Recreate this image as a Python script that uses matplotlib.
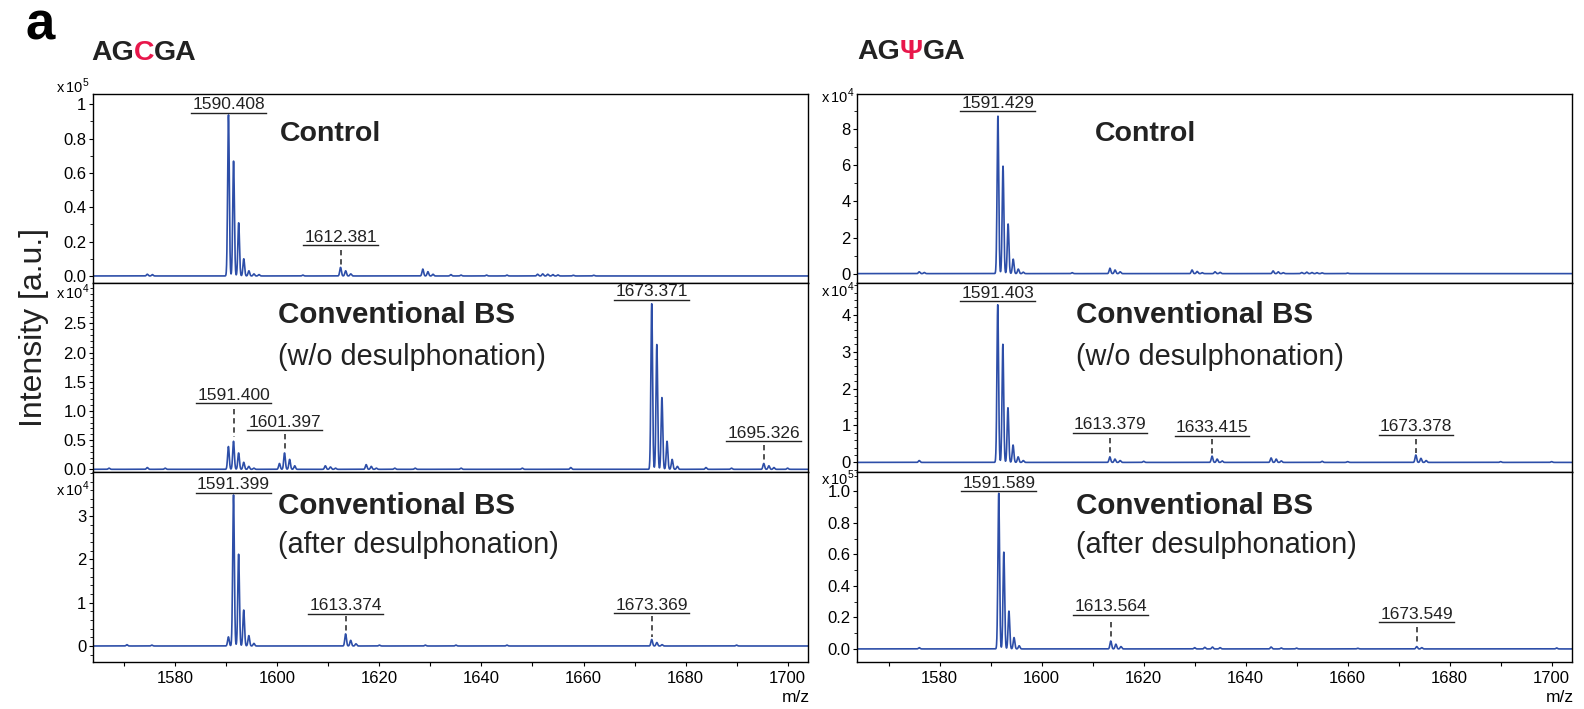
import numpy as np
import matplotlib
matplotlib.use("Agg")
from matplotlib import pyplot as plt
from matplotlib.ticker import MultipleLocator, FixedLocator, FixedFormatter

W, H = 1584, 709
LINE = "#2d4ea8"
RED = "#e8174b"
INK = "#222222"

plt.rcParams["font.family"] = ["Liberation Sans", "DejaVu Sans"]
plt.rcParams["mathtext.fontset"] = "custom"
plt.rcParams["mathtext.rm"] = "Liberation Sans"

# m/z axis and isotope peak lists (centre m/z, height in panel units)
mz = np.arange(1560.0, 1710.0, 0.02)
SIGMA = 0.16

lt_peaks = [(1574.5, 0.01), (1575.5, 0.008), (1590.41, 0.94), (1591.41, 0.67),
            (1592.41, 0.31), (1593.41, 0.10), (1594.41, 0.03), (1595.4, 0.012),
            (1596.4, 0.008), (1605.0, 0.005), (1612.38, 0.05), (1613.38, 0.03),
            (1614.38, 0.012), (1628.5, 0.04), (1629.5, 0.025), (1630.5, 0.01),
            (1634.0, 0.008), (1636.0, 0.005), (1641.0, 0.005), (1645.0, 0.005),
            (1651.0, 0.01), (1652.0, 0.012), (1653.0, 0.01), (1654.0, 0.008),
            (1655.0, 0.006), (1658.0, 0.004), (1662.0, 0.004)]
lm_peaks = [(1567.0, 0.02), (1574.5, 0.03), (1578.0, 0.02), (1590.4, 0.39),
            (1591.4, 0.48), (1592.4, 0.28), (1593.4, 0.12), (1594.4, 0.05),
            (1595.4, 0.02), (1600.4, 0.10), (1601.4, 0.28), (1602.4, 0.17),
            (1603.4, 0.06), (1609.4, 0.06), (1610.4, 0.04), (1611.4, 0.02),
            (1617.4, 0.08), (1618.4, 0.05), (1619.4, 0.02), (1623.0, 0.02),
            (1627.0, 0.02), (1636.0, 0.02), (1648.0, 0.02), (1657.5, 0.03),
            (1673.37, 2.84), (1674.37, 2.14), (1675.37, 1.23), (1676.37, 0.48),
            (1677.37, 0.17), (1678.4, 0.05), (1684.0, 0.03), (1689.0, 0.02),
            (1695.33, 0.10), (1696.33, 0.06), (1697.33, 0.03), (1700.0, 0.02)]
lb_peaks = [(1570.5, 0.03), (1575.4, 0.02), (1590.4, 0.21), (1591.4, 3.49),
            (1592.4, 2.12), (1593.4, 0.83), (1594.4, 0.24), (1595.4, 0.06),
            (1613.37, 0.28), (1614.37, 0.13), (1615.4, 0.05), (1620.0, 0.02),
            (1629.0, 0.02), (1635.0, 0.02), (1645.0, 0.02), (1673.37, 0.15),
            (1674.37, 0.08), (1675.4, 0.03), (1690.0, 0.02)]
rt_peaks = [(1576.0, 0.10), (1577.0, 0.06), (1591.43, 8.74), (1592.43, 5.96),
            (1593.43, 2.75), (1594.43, 0.80), (1595.43, 0.25), (1596.4, 0.08),
            (1606.0, 0.05), (1613.4, 0.30), (1614.4, 0.20), (1615.4, 0.10),
            (1629.5, 0.20), (1630.5, 0.12), (1631.5, 0.05), (1634.0, 0.10),
            (1635.0, 0.07), (1645.4, 0.15), (1646.4, 0.10), (1647.4, 0.05),
            (1651.0, 0.06), (1652.0, 0.08), (1653.0, 0.06), (1654.0, 0.05),
            (1655.0, 0.04), (1660.0, 0.03)]
rm_peaks = [(1576.0, 0.05), (1591.4, 4.27), (1592.4, 3.20), (1593.4, 1.48),
            (1594.4, 0.47), (1595.4, 0.15), (1596.4, 0.05), (1613.38, 0.15),
            (1614.38, 0.09), (1615.4, 0.05), (1620.0, 0.03), (1633.42, 0.17),
            (1634.42, 0.09), (1635.4, 0.04), (1645.0, 0.12), (1646.0, 0.09),
            (1647.0, 0.04), (1655.0, 0.03), (1660.0, 0.02), (1673.38, 0.20),
            (1674.38, 0.11), (1675.4, 0.05), (1690.0, 0.02), (1700.0, 0.02)]
rb_peaks = [(1576.0, 0.008), (1591.59, 0.99), (1592.59, 0.615), (1593.59, 0.24),
            (1594.59, 0.072), (1595.6, 0.02), (1613.56, 0.05), (1614.56, 0.03),
            (1615.56, 0.015), (1630.0, 0.008), (1632.0, 0.01), (1633.5, 0.012),
            (1635.0, 0.008), (1645.0, 0.012), (1647.0, 0.006), (1650.0, 0.005),
            (1662.0, 0.004), (1673.55, 0.015), (1674.55, 0.008), (1701.0, 0.006)]

# peak labels: text, m/z, underline level, dashed span (top, bottom) or None
lt_labels = [("1590.408", 1590.41, 0.95, None), ("1612.381", 1612.38, 0.18, (0.15, 0.05))]
lm_labels = [("1591.400", 1591.4, 1.13, (1.03, 0.56)), ("1601.397", 1601.4, 0.67, (0.60, 0.33)),
             ("1673.371", 1673.37, 2.90, None), ("1695.326", 1695.33, 0.485, (0.42, 0.13))]
lb_labels = [("1591.399", 1591.4, 3.54, None), ("1613.374", 1613.37, 0.75, (0.69, 0.33)),
             ("1673.369", 1673.37, 0.76, (0.69, 0.21))]
rt_labels = [("1591.429", 1591.43, 8.99, None)]
rm_labels = [("1591.403", 1591.4, 4.36, None), ("1613.379", 1613.38, 0.81, (0.65, 0.22)),
             ("1633.415", 1633.42, 0.72, (0.64, 0.22)), ("1673.378", 1673.38, 0.75, (0.64, 0.26))]
rb_labels = [("1591.589", 1591.59, 1.0, None), ("1613.564", 1613.56, 0.217, (0.174, 0.057)),
             ("1673.549", 1673.55, 0.17, (0.138, 0.026))]

lt_ticks = [0.0, 0.2, 0.4, 0.6, 0.8, 1.0]
lt_ticklabels = ["0.0", "0.2", "0.4", "0.6", "0.8", "1"]
lm_ticks = [0.0, 0.5, 1.0, 1.5, 2.0, 2.5]
lm_ticklabels = ["0.0", "0.5", "1.0", "1.5", "2.0", "2.5"]
lb_ticks = [0, 1, 2, 3]
lb_ticklabels = ["0", "1", "2", "3"]
rt_ticks = [0, 2, 4, 6, 8]
rt_ticklabels = ["0", "2", "4", "6", "8"]
rm_ticks = [0, 1, 2, 3, 4]
rm_ticklabels = ["0", "1", "2", "3", "4"]
rb_ticks = [0.0, 0.2, 0.4, 0.6, 0.8, 1.0]
rb_ticklabels = ["0.0", "0.2", "0.4", "0.6", "0.8", "1.0"]

x_ticks = [1580, 1600, 1620, 1640, 1660, 1680, 1700]


def spectrum(peaks):
    y = np.zeros_like(mz)
    for c, h in peaks:
        y += h * np.exp(-0.5 * ((mz - c) / SIGMA) ** 2)
    return y


fig = plt.figure(figsize=(W / 100, H / 100), dpi=100)
renderer = fig.canvas.get_renderer()


def fx(x):
    return x / W


def fy(y):
    return 1 - y / H


def make_axes(x0, x1, y0, y1):
    return fig.add_axes([fx(x0), fy(y1), (x1 - x0) / W, (y1 - y0) / H])


def draw_panel(ax, peaks, labels, ylim, ticks, ticklabels, minor, exp, exp_y, bottom):
    ax.plot(mz, spectrum(peaks), color=LINE, lw=1.2)
    ax.set_xlim(1563.8, 1704.0)
    ax.set_ylim(*ylim)
    ax.yaxis.set_major_locator(FixedLocator(ticks))
    ax.yaxis.set_major_formatter(FixedFormatter(ticklabels))
    ax.yaxis.set_minor_locator(MultipleLocator(minor))
    ax.tick_params(axis="y", which="major", length=3, width=0.8, pad=1.5, labelsize=12)
    ax.tick_params(axis="y", which="minor", length=2, width=0.6)
    if bottom:
        ax.xaxis.set_major_locator(FixedLocator(x_ticks))
        ax.xaxis.set_minor_locator(MultipleLocator(10))
        ax.tick_params(axis="x", which="both", length=3, width=0.8, pad=3.5, labelsize=12)
    else:
        ax.set_xticks([])
        ax.xaxis.set_minor_locator(FixedLocator([]))
    for sp in ax.spines.values():
        sp.set_linewidth(1.0)
    # exponent label left of the axis
    x0 = ax.get_position().x0
    fig.text(x0 - 3 / W, fy(exp_y), r"x$\,$10$^{%d}$" % exp, ha="right",
             va="baseline", fontsize=10.5)
    for txt, x, yu, dash in labels:
        t = ax.annotate(txt, xy=(x, yu), xytext=(0, 2.5), textcoords="offset points",
                        ha="center", va="baseline", fontsize=12.5, color=INK)
        bb = t.get_window_extent(renderer)
        inv = ax.transData.inverted()
        (xa, _), (xb, _) = inv.transform([(bb.x0 - 1, 0), (bb.x1 + 1, 0)])
        ax.plot([xa, xb], [yu, yu], color=INK, lw=1.0, clip_on=False)
        if dash is not None:
            ax.plot([x, x], list(dash), color=INK, lw=1.1, ls=(0, (3.5, 2.5)))


LX0, LX1 = 92.7, 808
RX0, RX1 = 857, 1572
ROWS = [(94, 283), (283, 472), (472, 662)]

panels = [
    (LX0, LX1, ROWS[0], lt_peaks, lt_labels, (-0.041, 1.06), lt_ticks, lt_ticklabels, 0.1, 5, 93, False),
    (LX0, LX1, ROWS[1], lm_peaks, lm_labels, (-0.046, 3.19), lm_ticks, lm_ticklabels, 0.1, 4, 299, False),
    (LX0, LX1, ROWS[2], lb_peaks, lb_labels, (-0.37, 4.02), lb_ticks, lb_ticklabels, 0.2, 4, 496, True),
    (RX0, RX1, ROWS[0], rt_peaks, rt_labels, (-0.52, 9.95), rt_ticks, rt_ticklabels, 1.0, 4, 103, False),
    (RX0, RX1, ROWS[1], rm_peaks, rm_labels, (-0.26, 4.86), rm_ticks, rm_ticklabels, 0.2, 4, 297, False),
    (RX0, RX1, ROWS[2], rb_peaks, rb_labels, (-0.083, 1.123), rb_ticks, rb_ticklabels, 0.1, 5, 485, True),
]

for x0, x1, (y0, y1), pk, lab, yl, tk, tkl, mn, ex, ey, bot in panels:
    ax = make_axes(x0, x1, y0, y1)
    draw_panel(ax, pk, lab, yl, tk, tkl, mn, ex, ey, bot)

# condition labels inside panels
for xl in (280, 1095):
    fig.text(fx(xl), fy(134), "Control", fontsize=20.5, fontweight="bold", va="center", color=INK)
for xl in (278, 1076):
    fig.text(fx(xl), fy(315), "Conventional BS", fontsize=21.3, fontweight="bold", va="center", color=INK)
    fig.text(fx(xl), fy(357), "(w/o desulphonation)", fontsize=20.8, va="center", color=INK)
    fig.text(fx(xl), fy(506), "Conventional BS", fontsize=21.3, fontweight="bold", va="center", color=INK)
    fig.text(fx(xl), fy(545), "(after desulphonation)", fontsize=20.8, va="center", color=INK)


def colored_title(x, y, parts):
    for s, c in parts:
        t = fig.text(fx(x), fy(y), s, color=c, fontsize=20.5, fontweight="bold", va="center", ha="left")
        x += t.get_window_extent(renderer).width


colored_title(91, 53, [("AG", INK), ("C", RED), ("GA", INK)])
colored_title(857, 52, [("AG", INK), ("Ψ", RED), ("GA", INK)])

fig.text(fx(40), fy(26), "a", fontsize=38, fontweight="bold", ha="center", va="center")
fig.text(fx(34), fy(328), "Intensity [a.u.]", fontsize=23, rotation=90, ha="center", va="center",
         color=INK)
fig.text(fx(LX1 + 2), fy(698), "m/z", fontsize=12.5, ha="right", va="center")
fig.text(fx(RX1 + 2), fy(698), "m/z", fontsize=12.5, ha="right", va="center")

fig.savefig("out.png", dpi=100)
